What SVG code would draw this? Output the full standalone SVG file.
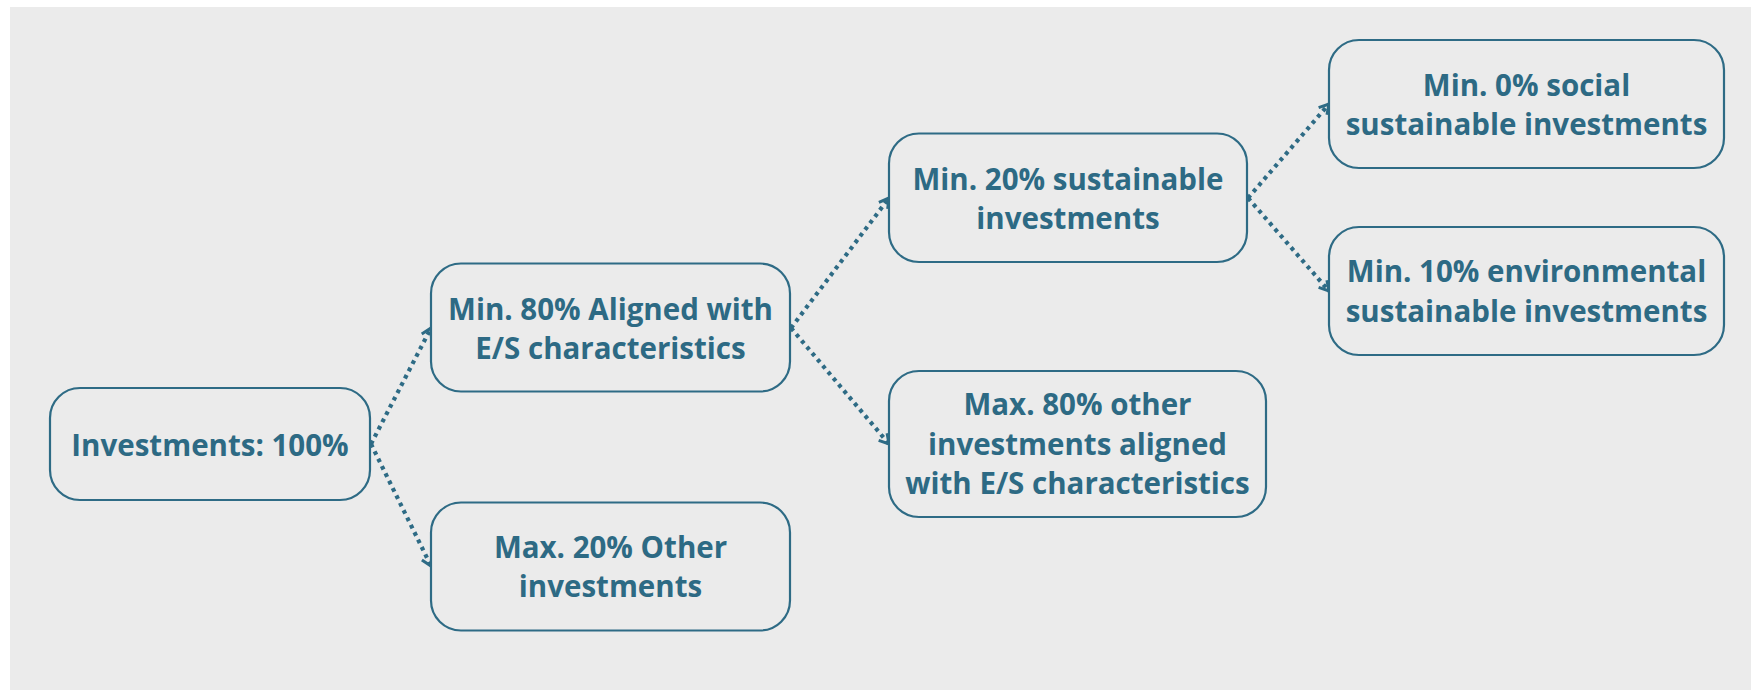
<svg xmlns="http://www.w3.org/2000/svg" width="1751" height="690" viewBox="0 0 1751 690">
<defs>
<style>
.box{fill:#ebebeb;stroke:#2e6b85;stroke-width:2.2}
.lbl{font-family:"Open Sans","Noto Sans","Liberation Sans",sans-serif;font-weight:700;font-size:29.5px;fill:#2d6a84;text-anchor:middle}
.con{fill:none;stroke:#2e6b85;stroke-width:4.2;stroke-dasharray:3.8 4.4}
</style>
<marker id="arr" markerWidth="14" markerHeight="14" refX="11" refY="7" orient="auto" markerUnits="userSpaceOnUse">
<path d="M1.5,1.5 L11,7 L1.5,12.5" fill="none" stroke="#2e6b85" stroke-width="3" stroke-linejoin="miter"/>
</marker>
</defs>
<rect x="0" y="0" width="1751" height="690" fill="#ffffff"/>
<rect x="10" y="7" width="1741" height="683" fill="#ebebeb"/>
<g id="connectors">
<line class="con" x1="371" y1="444" x2="431" y2="328" marker-end="url(#arr)"/>
<line class="con" x1="371" y1="444" x2="431" y2="566" marker-end="url(#arr)"/>
<line class="con" x1="791" y1="328" x2="889" y2="198" marker-end="url(#arr)"/>
<line class="con" x1="791" y1="328" x2="889" y2="444" marker-end="url(#arr)"/>
<line class="con" x1="1248" y1="198" x2="1329" y2="104" marker-end="url(#arr)"/>
<line class="con" x1="1248" y1="198" x2="1329" y2="291" marker-end="url(#arr)"/>
</g>
<g id="n-investments">
<rect class="box" x="50" y="388" width="320" height="112" rx="30"/>
<text class="lbl" x="210" y="456">Investments: 100%</text>
</g>
<g id="n-aligned">
<rect class="box" x="431" y="263.5" width="359" height="128" rx="30"/>
<text class="lbl" x="610.5" y="320">Min. 80% Aligned with</text>
<text class="lbl" x="610.5" y="358.5">E/S characteristics</text>
</g>
<g id="n-other">
<rect class="box" x="431" y="502.5" width="359" height="128" rx="30"/>
<text class="lbl" x="610.5" y="558">Max. 20% Other</text>
<text class="lbl" x="610.5" y="597">investments</text>
</g>
<g id="n-sustainable">
<rect class="box" x="889" y="133.5" width="358" height="128.5" rx="30"/>
<text class="lbl" x="1068" y="189.5">Min. 20% sustainable</text>
<text class="lbl" x="1068" y="228.5">investments</text>
</g>
<g id="n-other-es">
<rect class="box" x="889" y="371" width="377" height="146" rx="30"/>
<text class="lbl" x="1077.5" y="415">Max. 80% other</text>
<text class="lbl" x="1077.5" y="454.5">investments aligned</text>
<text class="lbl" x="1077.5" y="494">with E/S characteristics</text>
</g>
<g id="n-social">
<rect class="box" x="1329" y="40" width="395" height="128" rx="30"/>
<text class="lbl" x="1526.5" y="95.5">Min. 0% social</text>
<text class="lbl" x="1526.5" y="135">sustainable investments</text>
</g>
<g id="n-env">
<rect class="box" x="1329" y="227" width="395" height="128" rx="30"/>
<text class="lbl" x="1526.5" y="282">Min. 10% environmental</text>
<text class="lbl" x="1526.5" y="321.5">sustainable investments</text>
</g>
</svg>
